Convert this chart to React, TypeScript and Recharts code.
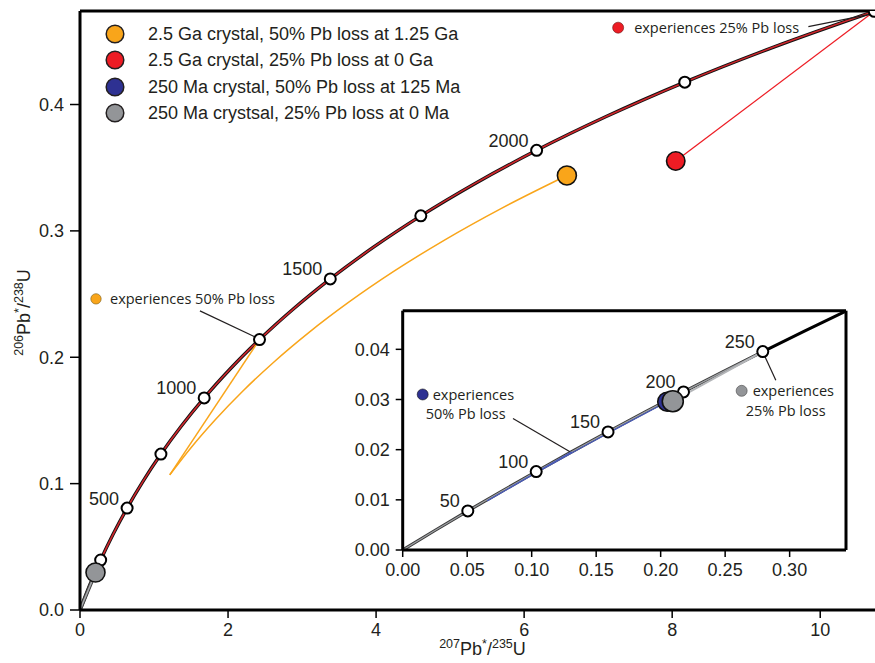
import {
  ComposedChart,
  Line,
  Scatter,
  XAxis,
  YAxis,
  ReferenceDot,
  ReferenceLine,
  CartesianGrid,
} from 'recharts';

// concordia, 0–2500 Ma every 125 Myr (207Pb*/235U, 206Pb*/238U)
const concordiaAges = [0, 125, 250, 375, 500, 625, 750, 875, 1000, 1125, 1250, 1375, 1500, 1625, 1750, 1875, 2000, 2125, 2250, 2375, 2500];
const concordiaX = [0, 0.131, 0.2792, 0.4468, 0.6363, 0.8507, 1.0931, 1.3673, 1.6775, 2.0283, 2.425, 2.8737, 3.3812, 3.9551, 4.6043, 5.3385, 6.1689, 7.1081, 8.1703, 9.3717, 10.7305];
const concordiaY = [0, 0.01958, 0.03954, 0.0599, 0.08065, 0.10181, 0.12338, 0.14537, 0.16781, 0.19068, 0.21398, 0.23775, 0.26199, 0.28669, 0.31188, 0.33757, 0.36376, 0.39046, 0.41769, 0.44545, 0.47376];
const markedAges = [250, 500, 750, 1000, 1250, 1500, 1750, 2000, 2250, 2500];
const labelledAges = [500, 1000, 1500, 2000];

// 2.5 Ga crystal, 50% Pb loss at 1.25 Ga
const orangeLossX = [2.425, 1.2125];
const orangeLossY = [0.21398, 0.10699];
const orangeGrowthX = [1.2125, 1.5023, 1.8302, 2.2009, 2.6203, 3.0946, 3.631, 4.2377, 4.9239, 5.7, 6.5777];
const orangeGrowthY = [0.10699, 0.12866, 0.15076, 0.1733, 0.19627, 0.21969, 0.24356, 0.26791, 0.29275, 0.31807, 0.34386];

// 2.5 Ga crystal, 25% Pb loss at 0 Ga
const redLossX = [8.048, 10.7305];
const redLossY = [0.35532, 0.47376];

// 250 Ma crystal, 25% Pb loss at 0 Ma
const grayLossX = [0, 0.2094, 0.27918];
const grayLossY = [0, 0.02966, 0.03954];

// 250 Ma crystal, 50% Pb loss at 125 Ma
const blueX = [0.13101, 0.06551, 0.09881, 0.13315, 0.16857, 0.2051];
const blueY = [0.01958, 0.00979, 0.0147, 0.01963, 0.02458, 0.02956];

const sampleNames = ['orange', 'red', 'blue', 'gray'];
const sampleX = [6.5777, 8.048, 0.2051, 0.2094];
const sampleY = [0.34386, 0.35532, 0.02956, 0.02966];

const legendLabels = [
  '2.5 Ga crystal, 50% Pb loss at 1.25 Ga',
  '2.5 Ga crystal, 25% Pb loss at 0 Ga',
  '250 Ma crystal, 50% Pb loss at 125 Ma',
  '250 Ma crystsal, 25% Pb loss at 0 Ma',
];

// inset concordia, 0–300 Ma every 25 Myr
const insetAges = [0, 25, 50, 75, 100, 125, 150, 175, 200, 225, 250, 275, 300];
const insetX = [0, 0.02493, 0.05048, 0.07666, 0.1035, 0.13101, 0.1592, 0.18809, 0.21771, 0.24806, 0.27918, 0.31107, 0.34374];
const insetY = [0, 0.003886, 0.007786, 0.011702, 0.015633, 0.01958, 0.023542, 0.027519, 0.031511, 0.035519, 0.039543, 0.043582, 0.047638];
const insetMarkedAges = [50, 100, 150, 200, 250];

const mainXTicks = [0, 2, 4, 6, 8, 10];
const mainYTicks = [0, 0.1, 0.2, 0.3, 0.4];
const insetXTicks = [0, 0.05, 0.1, 0.15, 0.2, 0.25, 0.3];
const insetYTicks = [0, 0.01, 0.02, 0.03, 0.04];

const MAIN_X_MAX = 10.74;
const MAIN_Y_MAX = 0.474;
const INSET_X_MAX = 0.3437;
const INSET_Y_MAX = 0.0477;

const TEXT = '#231f20';
const FONT = "'Liberation Sans', Arial, sans-serif";
const NOTE_FONT = "'Open Sans', sans-serif";
const colors: Record<string, string> = {
  orange: '#f9a51a',
  red: '#ed1c24',
  blue: '#2e3192',
  gray: '#939598',
};
const legendColors = [colors.orange, colors.red, colors.blue, colors.gray];

const zip = (xs: number[], ys: number[]) => xs.map((x, i) => ({ x, y: ys[i] }));

const concordia = concordiaAges.map((age, i) => ({ age, x: concordiaX[i], y: concordiaY[i] }));
const concordiaMarks = concordia
  .filter(p => markedAges.includes(p.age))
  .map(p => ({ ...p, label: labelledAges.includes(p.age) ? String(p.age) : '' }));

const inset = insetAges.map((age, i) => ({ age, x: insetX[i], y: insetY[i] }));
const insetMarks = inset
  .filter(p => insetMarkedAges.includes(p.age))
  .map(p => ({ ...p, label: String(p.age) }));

const sample = (name: string) => {
  const i = sampleNames.indexOf(name);
  return [{ x: sampleX[i], y: sampleY[i] }];
};

// eslint-disable-next-line @typescript-eslint/no-explicit-any
function AgeMarker(p: any) {
  return (
    <g>
      <circle cx={p.cx} cy={p.cy} r={5.5} fill="#fff" stroke="#000" strokeWidth={2} />
      {p.payload?.label ? (
        <text x={p.cx - 8} y={p.cy - 3.5} textAnchor="end" fontSize={18} fontFamily={FONT} fill={TEXT}>
          {p.payload.label}
        </text>
      ) : null}
    </g>
  );
}

const sampleDot = (fill: string, r: number) =>
  // eslint-disable-next-line @typescript-eslint/no-explicit-any
  (p: any) => <circle cx={p.cx} cy={p.cy} r={r} fill={fill} stroke="#111" strokeWidth={1.6} />;

// eslint-disable-next-line @typescript-eslint/no-explicit-any
function Note({ viewBox, lines, dx, indent = 0 }: any) {
  const cx = viewBox.x + viewBox.width / 2;
  const cy = viewBox.y + viewBox.height / 2;
  return (
    <text fontFamily={NOTE_FONT} fontSize={14.5} fill={TEXT}>
      {lines.map((l: string, i: number) => (
        <tspan key={l} x={cx + dx - (i > 0 ? indent : 0)} y={cy + i * 19.5} dy="0.36em">
          {l}
        </tspan>
      ))}
    </text>
  );
}

// eslint-disable-next-line @typescript-eslint/no-explicit-any
function RatioTitle({ viewBox, top, bottom, vertical }: any) {
  const x = vertical ? 30 : viewBox.x + viewBox.width / 2 + 5;
  const y = vertical ? viewBox.y + viewBox.height / 2 + 2 : 655;
  return (
    <text
      x={x}
      y={y}
      textAnchor="middle"
      transform={vertical ? `rotate(-90 ${x} ${y})` : undefined}
      fontFamily={FONT}
      fontSize={18}
      fill={TEXT}
    >
      <tspan fontSize={12.5} dy={-7}>{top}</tspan>
      <tspan dy={7}>Pb</tspan>
      <tspan fontSize={12.5} dy={-7}>*</tspan>
      <tspan dy={7}>/</tspan>
      <tspan fontSize={12.5} dy={-7}>{bottom}</tspan>
      <tspan dy={7}>U</tspan>
    </text>
  );
}

function LegendBox() {
  return (
    <div style={{ position: 'absolute', left: 105, top: 21, fontFamily: FONT, fontSize: 18, color: TEXT, lineHeight: 1 }}>
      {legendLabels.map((label, i) => (
        <div key={label} style={{ display: 'flex', alignItems: 'center', height: 26.3 }}>
          <svg width={20} height={20} style={{ flex: 'none' }}>
            <circle cx={10} cy={10} r={8.8} fill={legendColors[i]} stroke={TEXT} strokeWidth={1.5} />
          </svg>
          <span style={{ marginLeft: 23, whiteSpace: 'nowrap' }}>{label}</span>
        </div>
      ))}
    </div>
  );
}

const axisLine = { stroke: '#000', strokeWidth: 3 };
const tickLine = { stroke: '#000', strokeWidth: 1.5 };
const tickStyle = { fontSize: 18, fill: TEXT, fontFamily: FONT };

function MainChart() {
  return (
    <ComposedChart width={890} height={663} margin={{ top: 11, right: 15, bottom: 0, left: 0 }}>
      <XAxis
        dataKey="x"
        type="number"
        domain={[0, MAIN_X_MAX]}
        ticks={mainXTicks}
        allowDataOverflow
        height={53}
        tickSize={8}
        tickMargin={5}
        axisLine={axisLine}
        tickLine={tickLine}
        tick={tickStyle}
        label={<RatioTitle top="207" bottom="235" />}
      />
      <YAxis
        dataKey="y"
        type="number"
        domain={[0, MAIN_Y_MAX]}
        ticks={mainYTicks}
        allowDataOverflow
        width={80}
        tickSize={10}
        tickMargin={6}
        tickFormatter={(v: number) => v.toFixed(1)}
        axisLine={axisLine}
        tickLine={tickLine}
        tick={tickStyle}
        label={<RatioTitle top="206" bottom="238" vertical />}
      />
      {/* top frame of the plot */}
      <ReferenceLine y={MAIN_Y_MAX} stroke="#000" strokeWidth={3} ifOverflow="visible" />

      <Line data={concordia} dataKey="y" type="monotone" stroke="#111" strokeWidth={3.4} dot={false} activeDot={false} isAnimationActive={false} />
      <Line data={concordia} dataKey="y" type="monotone" stroke="#d0262c" strokeWidth={1.6} dot={false} activeDot={false} isAnimationActive={false} />
      <Line data={zip(orangeLossX, orangeLossY)} dataKey="y" type="linear" stroke={colors.orange} strokeWidth={1.5} dot={false} activeDot={false} isAnimationActive={false} />
      <Line data={zip(orangeGrowthX, orangeGrowthY)} dataKey="y" type="monotone" stroke={colors.orange} strokeWidth={1.5} dot={false} activeDot={false} isAnimationActive={false} />
      <Line data={zip(redLossX, redLossY)} dataKey="y" type="linear" stroke={colors.red} strokeWidth={1.3} dot={false} activeDot={false} isAnimationActive={false} />
      <Line data={zip(grayLossX, grayLossY).slice(0, 2)} dataKey="y" type="linear" stroke="#444" strokeWidth={3.5} dot={false} activeDot={false} isAnimationActive={false} />
      <Line data={zip(grayLossX, grayLossY).slice(0, 2)} dataKey="y" type="linear" stroke="#a7a9ac" strokeWidth={1.6} dot={false} activeDot={false} isAnimationActive={false} />

      <ReferenceLine segment={[{ x: 1.62, y: 0.2367 }, { x: 2.39, y: 0.2154 }]} stroke={TEXT} strokeWidth={1.2} />
      <ReferenceLine segment={[{ x: 9.84, y: 0.4616 }, { x: 10.72, y: 0.4719 }]} stroke={TEXT} strokeWidth={1.2} />
      <ReferenceDot x={0.216} y={0.2462} r={5.2} fill={colors.orange} stroke="#7a5a10" strokeWidth={0.6} label={<Note lines={['experiences 50% Pb loss']} dx={14} />} />
      <ReferenceDot x={7.27} y={0.4608} r={5.5} fill={colors.red} stroke="#6a1010" strokeWidth={0.6} label={<Note lines={['experiences 25% Pb loss']} dx={16} />} />

      <Scatter data={concordiaMarks} shape={AgeMarker} isAnimationActive={false} />
      <Scatter data={sample('orange')} shape={sampleDot(colors.orange, 9.5)} isAnimationActive={false} />
      <Scatter data={sample('red')} shape={sampleDot(colors.red, 9.2)} isAnimationActive={false} />
      <Scatter data={sample('gray')} shape={sampleDot(colors.gray, 9.5)} isAnimationActive={false} />
    </ComposedChart>
  );
}

function InsetChart() {
  return (
    <ComposedChart width={520} height={290} margin={{ top: 10.7, right: 14, bottom: 0, left: 0 }}>
      <CartesianGrid horizontal={false} vertical={false} fill="#fff" />
      <XAxis
        dataKey="x"
        type="number"
        domain={[0, INSET_X_MAX]}
        ticks={insetXTicks}
        allowDataOverflow
        height={40}
        tickSize={7}
        tickMargin={6}
        tickFormatter={(v: number) => v.toFixed(2)}
        axisLine={axisLine}
        tickLine={tickLine}
        tick={tickStyle}
      />
      <YAxis
        dataKey="y"
        type="number"
        domain={[0, INSET_Y_MAX]}
        ticks={insetYTicks}
        allowDataOverflow
        width={62.7}
        tickSize={7}
        tickMargin={6}
        tickFormatter={(v: number) => v.toFixed(2)}
        axisLine={axisLine}
        tickLine={tickLine}
        tick={tickStyle}
      />
      <ReferenceLine y={INSET_Y_MAX} stroke="#000" strokeWidth={3} ifOverflow="visible" />
      <ReferenceLine x={INSET_X_MAX} stroke="#000" strokeWidth={3} ifOverflow="visible" />

      <Line data={inset.filter(p => p.age <= 250)} dataKey="y" type="monotone" stroke="#3a3a3a" strokeWidth={3.2} dot={false} activeDot={false} isAnimationActive={false} />
      <Line data={inset.filter(p => p.age >= 250)} dataKey="y" type="monotone" stroke="#000" strokeWidth={3} dot={false} activeDot={false} isAnimationActive={false} />
      <Line data={inset.filter(p => p.age <= 250)} dataKey="y" type="monotone" stroke="#9d9fa2" strokeWidth={1.3} dot={false} activeDot={false} isAnimationActive={false} />
      <Line data={zip(blueX, blueY)} dataKey="y" type="linear" stroke="#4a5bb5" strokeWidth={1.3} dot={false} activeDot={false} isAnimationActive={false} />
      <Line data={zip(grayLossX, grayLossY).slice(1)} dataKey="y" type="linear" stroke="#b3b5b8" strokeWidth={2} dot={false} activeDot={false} isAnimationActive={false} />

      <ReferenceLine segment={[{ x: 0.0855, y: 0.02623 }, { x: 0.1297, y: 0.01958 }]} stroke={TEXT} strokeWidth={1.2} />
      <ReferenceLine segment={[{ x: 0.2793, y: 0.03944 }, { x: 0.2893, y: 0.03386 }]} stroke={TEXT} strokeWidth={1.2} />
      <ReferenceDot x={0.0155} y={0.031} r={5.5} fill={colors.blue} stroke="#111" strokeWidth={0.6} label={<Note lines={['experiences', '50% Pb loss']} dx={10} indent={7} />} />
      <ReferenceDot x={0.2628} y={0.03173} r={5.5} fill={colors.gray} stroke="#444" strokeWidth={0.6} label={<Note lines={['experiences', '25% Pb loss']} dx={11} indent={7} />} />

      <Scatter data={insetMarks} shape={AgeMarker} isAnimationActive={false} />
      <Scatter data={sample('blue')} shape={sampleDot(colors.blue, 9.5)} isAnimationActive={false} />
      <Scatter data={sample('gray')} shape={sampleDot(colors.gray, 10.5)} isAnimationActive={false} />
    </ComposedChart>
  );
}

export default function App() {
  return (
    <div style={{ position: 'absolute', left: 0, top: 0, width: 875, height: 663, overflow: 'hidden', background: '#fff' }}>
      <MainChart />
      <LegendBox />
      <div style={{ position: 'absolute', left: 340, top: 300 }}>
        <InsetChart />
      </div>
    </div>
  );
}
